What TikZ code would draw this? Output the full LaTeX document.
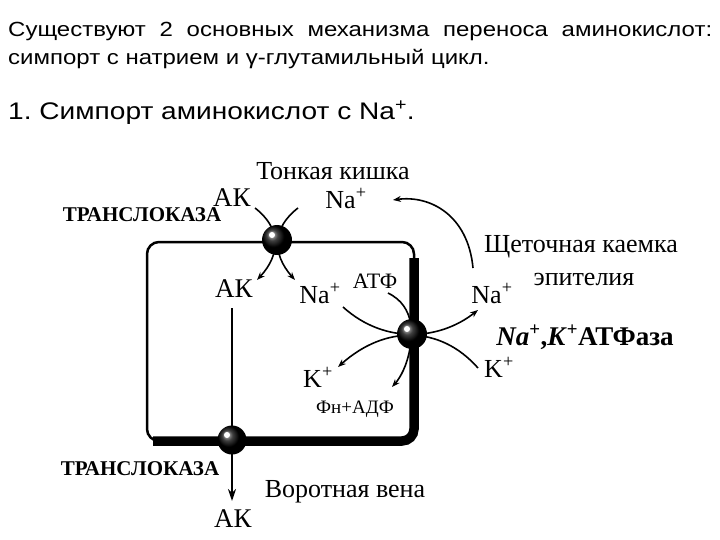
\documentclass[tikz,border=0pt]{standalone}
\usepackage{fontspec}
\setmainfont{Liberation Serif}
\newfontfamily\sansf[FakeStretch=1.17]{Liberation Sans}
\usetikzlibrary{arrows.meta}
\begin{document}
\frenchspacing
\begin{tikzpicture}[x=1pt,y=-1pt,
  hdr/.style={anchor=base west, inner sep=0pt, font=\sansf\fontsize{20.5}{22}\selectfont},
  lbl/.style={anchor=base, inner sep=0pt, font=\fontsize{26}{28}\selectfont},
  big/.style={anchor=base, inner sep=0pt, font=\fontsize{27}{29}\selectfont},
  small/.style={anchor=base, inner sep=0pt, font=\fontsize{19}{21}\selectfont},
  transl/.style={anchor=base, inner sep=0pt, font=\bfseries\fontsize{21}{23}\selectfont},
  flow/.style={line width=1.6pt, -{Stealth[length=8pt,width=6pt]}},
  flowplain/.style={line width=1.6pt},
  ballst/.style={circle, inner sep=0pt, minimum size=#1, shading=ball, ball color=black},
  hilite/.style={white},
]
\useasboundingbox (0,0) rectangle (720,540);
\fill[white] (0,0) rectangle (720,540);

% header text
\node[hdr] (t1) at (8,37) {\makebox[704pt][s]{Существуют 2 основных механизма переноса аминокислот:}};
\node[hdr] (t2) at (8,65) {симпорт с натрием и γ-глутамильный цикл.};
\node[hdr, font=\sansf\fontsize{24}{26}\selectfont] (t3) at (8,120) {1. Симпорт аминокислот с Na\textsuperscript{+}.};

% cell box
\draw[line width=2.5pt, rounded corners=12pt] (147,242) rectangle (414,441);
\draw[line width=9.5pt, rounded corners=12pt] (414,258) -- (414,441) -- (153,441);

% coordinates
\coordinate (b1c) at (277,240);
\coordinate (b2c) at (412,334);
\coordinate (b3c) at (232,440);
\coordinate (ak1s) at (255,208);
\coordinate (ak1e) at (257,280);
\coordinate (na1s) at (298,208);
\coordinate (na1e) at (295,280);
\coordinate (na2s) at (343,307);
\coordinate (na2e) at (478,310);
\coordinate (k2s) at (478,368);
\coordinate (k2e) at (338,367);
\coordinate (atps) at (388,293);
\coordinate (atpe) at (411,324);
\coordinate (adps) at (410,348);
\coordinate (adpe) at (392,387);
\coordinate (nars) at (473,268);
\coordinate (nare) at (393,200);
\coordinate (vtop) at (232,308);
\coordinate (vbot) at (232,501);

% flows at translocase 1
\draw[flow] (ak1s) .. controls (281,228) and (281,254) .. (ak1e);
\draw[flow] (na1s) .. controls (272,228) and (272,254) .. (na1e);
% flows at ATPase
\draw[flow] (na2s) .. controls (385,345) and (440,340) .. (na2e);
\draw[flow] (k2s) .. controls (440,325) and (385,325) .. (k2e);
\draw[flowplain] (atps) .. controls (402,300) and (408,310) .. (atpe);
\draw[flow] (adps) .. controls (407,366) and (400,378) .. (adpe);
% Na recycling arc
\draw[flow] (nars) .. controls (468,215) and (430,195) .. (nare);
% vertical AK path
\draw[line width=2.2pt] (vtop) -- (b3c);
\draw[line width=2.2pt, -{Stealth[length=12pt,width=8pt]}] (b3c) -- (vbot);

% balls
\node[ballst=30pt] (b1) at (b1c) {};
\node[ballst=30pt] (b2) at (b2c) {};
\node[ballst=29pt] (b3) at (b3c) {};
\fill[hilite] (272,235) circle (3);
\fill[hilite] (407,329) circle (3);
\fill[hilite] (227,435) circle (3);

% labels
\node[lbl] (lsi) at (333,180) {Тонкая кишка};
\node[big] (lak1) at (232,207) {АК};
\node[lbl] (lna1) at (346,208) {Na\textsuperscript{+}};
\node[transl] (ltr1) at (142,222) {ТРАНСЛОКАЗА};
\node[big] (lak2) at (234,297) {АК};
\node[lbl] (lna2) at (320,303) {Na\textsuperscript{+}};
\node[small, font=\fontsize{22}{24}\selectfont] (latp) at (375,288) {АТФ};
\node[lbl] (lna3) at (492,303) {Na\textsuperscript{+}};
\node[lbl] (lbr1) at (581,252) {Щеточная каемка};
\node[lbl] (lbr2) at (584,285) {эпителия};
\node[lbl, font=\bfseries\fontsize{27}{29}\selectfont] (lnak) at (585,345) {\textit{Na}\textsuperscript{+},\textit{K}\textsuperscript{+}АТФаза};
\node[lbl] (lk1) at (499,377) {K\textsuperscript{+}};
\node[lbl] (lk2) at (318,387) {K\textsuperscript{+}};
\node[small] (ladp) at (355,413) {Фн+АДФ};
\node[transl] (ltr2) at (140,475) {ТРАНСЛОКАЗА};
\node[lbl] (lpv) at (345,497) {Воротная вена};
\node[big] (lak3) at (233,527) {АК};
\end{tikzpicture}
\end{document}
